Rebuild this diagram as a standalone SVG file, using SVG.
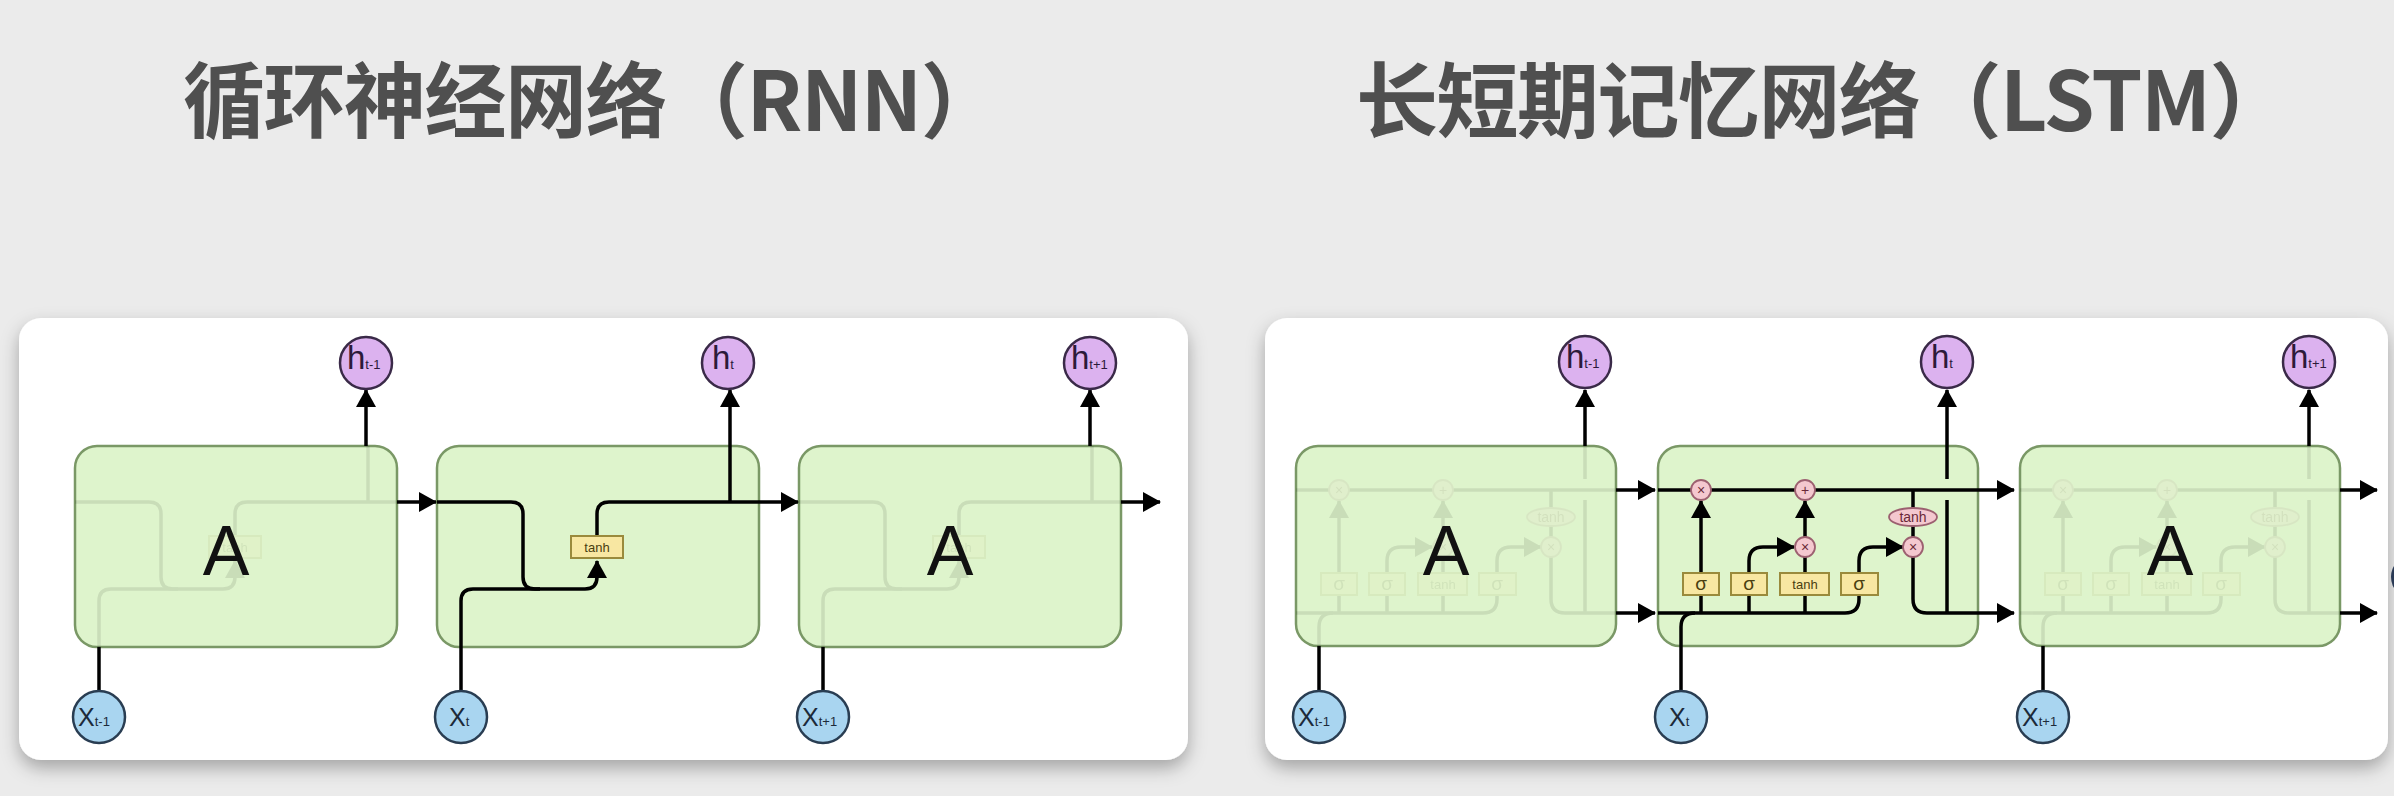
<svg xmlns="http://www.w3.org/2000/svg" xmlns:xlink="http://www.w3.org/1999/xlink" width="2394" height="796" viewBox="0 0 2394 796">
<defs>
<style>
.title{font-family:"Noto Sans CJK SC","Noto Sans",sans-serif;font-weight:700;font-size:82px;letter-spacing:-1.5px;fill:#4f4f4f}
.panel{fill:#ffffff}
.cell{fill:#def4cc;stroke:#7a9866;stroke-width:2.5}
.ln{fill:none;stroke:#000;stroke-width:3.5}
.arr{fill:none;stroke:#000;stroke-width:3.5;marker-end:url(#ah)}
.hc{fill:#dcb2ef;stroke:#3a2a48;stroke-width:2.5}
.xc{fill:#a9d5f0;stroke:#293d52;stroke-width:2.5}
.ht{font-family:"Liberation Sans",Arial,sans-serif;font-size:33px;fill:#2c1a3a}
.xt{font-family:"Liberation Sans",Arial,sans-serif;font-size:25px;fill:#1c2a3a}
.sub{font-size:13px}
.bigA{font-family:"Liberation Sans",Arial,sans-serif;font-size:70px;fill:#111;text-anchor:middle}
.gate{fill:#f8e7a2;stroke:#9a8a3c;stroke-width:2}
.gt{font-family:"Liberation Sans",Arial,sans-serif;fill:#4a3e10;text-anchor:middle}
.op{fill:#f4c8cf;stroke:#9c6070;stroke-width:1.8}
.opt{font-family:"Liberation Sans",Arial,sans-serif;font-size:14px;fill:#6a2838;text-anchor:middle}
.ghost{opacity:0.09}
</style>
<marker id="ah" viewBox="0 0 18 20" refX="17" refY="10" markerWidth="18" markerHeight="20" markerUnits="userSpaceOnUse" orient="auto">
<path d="M0,0 L18,10 L0,20 z" fill="#000"/>
</marker>
<filter id="sh" x="-5%" y="-10%" width="110%" height="125%">
<feDropShadow dx="0" dy="8" stdDeviation="9" flood-color="#000" flood-opacity="0.3"/>
</filter>
<g id="rnnInner">
<path class="ln" d="M437,502 H511 Q523,502 523,514 V577 Q523,589 535,589 H585 Q597,589 597,577 V561" marker-end="url(#ah)"/>
<path class="ln" d="M461,647 V601 Q461,589 473,589 H540"/>
<path class="ln" d="M597,536 V514 Q597,502 609,502 H759"/>
<path class="ln" d="M730,502 V446"/>
<rect class="gate" x="571" y="536" width="52" height="22"/>
<text class="gt" x="597" y="552" font-size="13">tanh</text>
</g>
<g id="lstmInner">
<path class="ln" d="M1658,490 H1978"/>
<path class="ln" d="M1913,490 V509 M1913,526 V537"/>
<path class="ln" d="M1913,557 V599 Q1913,613 1927,613 H1978"/>
<path class="ln" d="M1947,613 V500 M1947,479 V446"/>
<path class="ln" d="M1658,613 H1845 Q1859,613 1859,599 V595"/>
<path class="ln" d="M1701,613 V595 M1749,613 V595 M1805,613 V595"/>
<path class="ln" d="M1681,646 V627 Q1681,613 1695,613"/>
<path class="arr" d="M1701,573 V501"/>
<path class="arr" d="M1749,573 V561 Q1749,547 1763,547 H1794"/>
<path class="ln" d="M1805,573 V557"/>
<path class="arr" d="M1805,537 V501"/>
<path class="arr" d="M1859,573 V561 Q1859,547 1873,547 H1903"/>
<rect class="gate" x="1683" y="573" width="36" height="22"/>
<rect class="gate" x="1731" y="573" width="36" height="22"/>
<rect class="gate" x="1780" y="573" width="49" height="22"/>
<rect class="gate" x="1841" y="573" width="37" height="22"/>
<text class="gt" x="1701" y="590" font-size="19">σ</text>
<text class="gt" x="1749" y="590" font-size="19">σ</text>
<text class="gt" x="1805" y="589" font-size="13">tanh</text>
<text class="gt" x="1859" y="590" font-size="19">σ</text>
<circle class="op" cx="1701" cy="490" r="10"/>
<circle class="op" cx="1805" cy="490" r="10"/>
<circle class="op" cx="1805" cy="547" r="10"/>
<circle class="op" cx="1913" cy="547" r="10"/>
<text class="opt" x="1701" y="495">×</text>
<text class="opt" x="1805" y="495">+</text>
<text class="opt" x="1805" y="552">×</text>
<text class="opt" x="1913" y="552">×</text>
<ellipse class="op" cx="1913" cy="517" rx="24" ry="9"/>
<text class="opt" x="1913" y="522" font-size="12">tanh</text>
</g>
</defs>

<rect width="2394" height="796" fill="#ebebeb"/>

<g id="titles">
<text class="title" x="183" y="131">循环神经网络（RNN）</text>
<text class="title" x="1356" y="131">长短期记忆网络（LSTM）</text>
</g>

<g id="panels">
<rect id="panel-rnn" class="panel" x="19" y="318" width="1169" height="442" rx="22" filter="url(#sh)"/>
<rect id="panel-lstm" class="panel" x="1265" y="318" width="1123" height="442" rx="22" filter="url(#sh)"/>
<circle cx="2413" cy="577" r="22" fill="#2a3a55"/>
</g>

<!-- RNN cells -->
<g id="rnn-A1">
<rect class="cell" x="75" y="446" width="322" height="201" rx="22"/>
<use xlink:href="#rnnInner" href="#rnnInner" class="ghost" transform="translate(-362,0)"/>
<text class="bigA" x="226" y="575">A</text>
</g>
<g id="rnn-A2">
<rect class="cell" x="437" y="446" width="322" height="201" rx="22"/>
<use xlink:href="#rnnInner" href="#rnnInner"/>
</g>
<g id="rnn-A3">
<rect class="cell" x="799" y="446" width="322" height="201" rx="22"/>
<use xlink:href="#rnnInner" href="#rnnInner" class="ghost" transform="translate(362,0)"/>
<text class="bigA" x="950" y="575">A</text>
</g>

<!-- LSTM cells -->
<g id="lstm-A1">
<rect class="cell" x="1296" y="446" width="320" height="200" rx="22"/>
<use xlink:href="#lstmInner" href="#lstmInner" class="ghost" transform="translate(-362,0)"/>
<text class="bigA" x="1446" y="575">A</text>
</g>
<g id="lstm-A2">
<rect class="cell" x="1658" y="446" width="320" height="200" rx="22"/>
<use xlink:href="#lstmInner" href="#lstmInner"/>
</g>
<g id="lstm-A3">
<rect class="cell" x="2020" y="446" width="320" height="200" rx="22"/>
<use xlink:href="#lstmInner" href="#lstmInner" class="ghost" transform="translate(362,0)"/>
<text class="bigA" x="2170" y="575">A</text>
</g>

<g id="connectors">
<path class="arr" d="M366,446 V390"/>
<path class="arr" d="M730,446 V390"/>
<path class="arr" d="M1090,446 V390"/>
<path class="ln" d="M99,691 V647"/>
<path class="ln" d="M461,691 V647"/>
<path class="ln" d="M823,691 V647"/>
<path class="arr" d="M397,502 H436"/>
<path class="arr" d="M759,502 H798"/>
<path class="arr" d="M1121,502 H1160"/>
<path class="arr" d="M1585,446 V390"/>
<path class="arr" d="M1947,446 V390"/>
<path class="arr" d="M2309,446 V390"/>
<path class="ln" d="M1319,691 V646"/>
<path class="ln" d="M1681,691 V646"/>
<path class="ln" d="M2043,691 V646"/>
<path class="arr" d="M1616,490 H1655"/>
<path class="arr" d="M1616,613 H1655"/>
<path class="arr" d="M1978,490 H2014"/>
<path class="arr" d="M1978,613 H2014"/>
<path class="arr" d="M2340,490 H2377"/>
<path class="arr" d="M2340,613 H2377"/>
</g>

<g id="rnn-h1"><circle class="hc" cx="366" cy="363" r="26"/><text class="ht" x="347" y="369">h<tspan class="sub">t-1</tspan></text></g>
<g id="rnn-h2"><circle class="hc" cx="728" cy="363" r="26"/><text class="ht" x="712" y="369">h<tspan class="sub">t</tspan></text></g>
<g id="rnn-h3"><circle class="hc" cx="1090" cy="363" r="26"/><text class="ht" x="1071" y="369">h<tspan class="sub">t+1</tspan></text></g>
<g id="rnn-x1"><circle class="xc" cx="99" cy="717" r="26"/><text class="xt" x="78" y="726">X<tspan class="sub">t-1</tspan></text></g>
<g id="rnn-x2"><circle class="xc" cx="461" cy="717" r="26"/><text class="xt" x="449" y="726">X<tspan class="sub">t</tspan></text></g>
<g id="rnn-x3"><circle class="xc" cx="823" cy="717" r="26"/><text class="xt" x="802" y="726">X<tspan class="sub">t+1</tspan></text></g>

<g id="lstm-h1"><circle class="hc" cx="1585" cy="362" r="26"/><text class="ht" x="1566" y="368">h<tspan class="sub">t-1</tspan></text></g>
<g id="lstm-h2"><circle class="hc" cx="1947" cy="362" r="26"/><text class="ht" x="1931" y="368">h<tspan class="sub">t</tspan></text></g>
<g id="lstm-h3"><circle class="hc" cx="2309" cy="362" r="26"/><text class="ht" x="2290" y="368">h<tspan class="sub">t+1</tspan></text></g>
<g id="lstm-x1"><circle class="xc" cx="1319" cy="717" r="26"/><text class="xt" x="1298" y="726">X<tspan class="sub">t-1</tspan></text></g>
<g id="lstm-x2"><circle class="xc" cx="1681" cy="717" r="26"/><text class="xt" x="1669" y="726">X<tspan class="sub">t</tspan></text></g>
<g id="lstm-x3"><circle class="xc" cx="2043" cy="717" r="26"/><text class="xt" x="2022" y="726">X<tspan class="sub">t+1</tspan></text></g>
</svg>
